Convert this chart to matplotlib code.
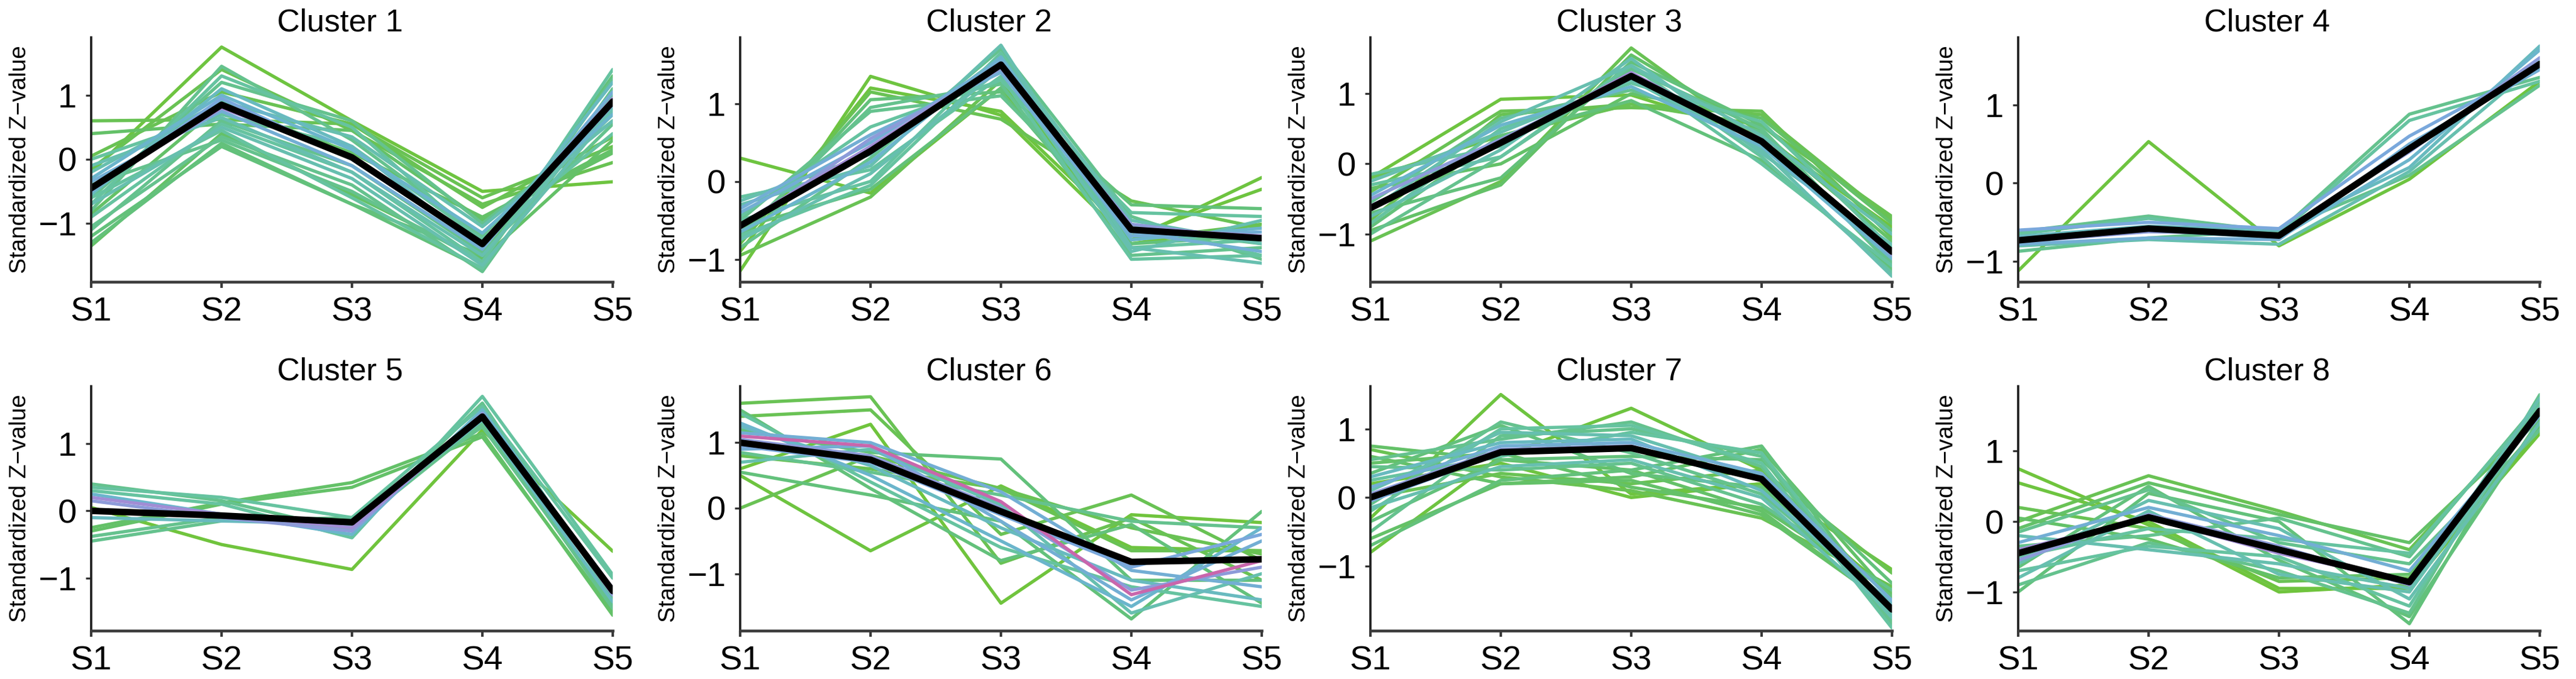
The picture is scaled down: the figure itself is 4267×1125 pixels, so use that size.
import matplotlib
matplotlib.use('Agg')
import matplotlib.pyplot as plt
from matplotlib.colors import LinearSegmentedColormap
import numpy as np

plt.rcParams['font.family'] = ['Liberation Sans', 'DejaVu Sans']

# ---------------- data ----------------
stages = ['S1', 'S2', 'S3', 'S4', 'S5']
cluster_titles = ['Cluster 1', 'Cluster 2', 'Cluster 3', 'Cluster 4',
                  'Cluster 5', 'Cluster 6', 'Cluster 7', 'Cluster 8']
y_label = 'Standardized Z\u2212value'
y_ticks = [-1, 0, 1]
y_tick_labels = ['\u22121', '0', '1']

centroid_1 = [-0.45, 0.85, 0.03, -1.32, 0.90]
members_1 = [
    [0.60, 0.62, 0.55, -0.75, 0.35], [0.40, 0.55, 0.45, -0.95, 0.10],
    [-0.20, 1.75, 0.60, -0.50, -0.35], [-1.35, 0.40, -0.55, -1.55, 0.30],
    [-1.30, 0.25, -0.70, -1.70, 0.95], [-1.20, 0.20, -0.70, -1.50, 1.30],
    [-1.05, 0.35, -0.40, -1.75, 1.10], [-0.90, 0.55, -0.20, -1.60, 1.40],
    [-0.80, 1.45, 0.30, -1.20, 0.95], [-0.70, 1.30, 0.50, -1.30, 0.70],
    [-0.60, 1.20, 0.60, -1.00, 0.60], [-0.55, 1.10, 0.20, -1.40, 1.20],
    [-0.50, 0.95, 0.00, -1.35, 0.85], [-0.45, 0.80, 0.05, -1.30, 0.95],
    [-0.35, 0.75, -0.10, -1.40, 1.05], [-0.30, 1.00, 0.15, -1.15, 0.70],
    [-0.20, 0.90, 0.35, -1.05, 0.60], [-0.10, 0.65, -0.20, -1.50, 0.80],
    [0.00, 0.70, 0.20, -1.25, 0.40], [-0.70, 0.50, -0.30, -1.65, 0.75],
    [-1.10, 0.60, -0.10, -1.45, 0.55], [-0.15, 1.40, 0.45, -0.70, -0.05],
    [-0.40, 0.30, -0.50, -1.60, 1.25], [-0.85, 0.85, 0.10, -0.90, 0.15],
    [0.05, 1.05, 0.55, -0.60, 0.20], [-0.60, 0.45, -0.60, -1.70, 1.00],
]
membership_1 = [0.35, 0.40, 0.30, 0.40, 0.45, 0.45, 0.50, 0.55, 0.50, 0.55,
                0.50, 0.65, 0.80, 0.90, 0.75, 0.70, 0.60, 0.60, 0.55, 0.60,
                0.50, 0.35, 0.50, 0.40, 0.35, 0.55]

centroid_2 = [-0.57, 0.39, 1.50, -0.62, -0.73]
members_2 = [
    [0.30, -0.15, 1.20, -0.75, 0.05], [-1.15, 1.35, 0.85, -0.80, -0.55],
    [-0.90, 1.20, 0.90, -0.70, -0.10], [-0.80, 1.15, 0.80, -0.25, -0.60],
    [-0.75, 1.05, 1.15, -0.80, -0.70], [-0.70, 0.95, 1.25, -0.95, -0.85],
    [-0.95, -0.20, 1.30, -0.75, -0.55], [-0.60, -0.10, 1.20, -0.30, -0.35],
    [-0.50, 0.00, 1.65, -0.55, -0.95], [-0.30, 0.20, 1.75, -0.85, -1.05],
    [-0.25, 0.35, 1.60, -0.50, -0.80], [-0.40, 0.50, 1.55, -0.65, -0.90],
    [-0.55, 0.45, 1.50, -0.60, -0.70], [-0.60, 0.55, 1.45, -0.55, -0.75],
    [-0.35, 0.60, 1.40, -0.70, -0.65], [-0.65, 0.25, 1.60, -0.75, -0.60],
    [-0.20, 0.15, 1.35, -1.00, -0.95], [-0.45, 0.70, 1.30, -0.40, -0.45],
    [-0.75, 0.10, 1.45, -0.90, -0.50], [-0.85, 0.30, 1.70, -0.45, -1.00],
    [-0.50, 0.90, 1.10, -0.60, -0.80], [-0.70, -0.05, 1.55, -0.85, -0.75],
]
membership_2 = [0.30, 0.30, 0.30, 0.35, 0.45, 0.50, 0.35, 0.45, 0.55, 0.60,
                0.60, 0.75, 0.90, 0.85, 0.75, 0.70, 0.55, 0.55, 0.60, 0.50,
                0.50, 0.55]

centroid_3 = [-0.63, 0.30, 1.25, 0.32, -1.25]
members_3 = [
    [-0.20, 0.92, 0.98, 0.40, -0.90], [-0.40, 0.75, 0.80, 0.75, -1.05],
    [-0.80, 0.70, 0.85, 0.70, -0.80], [-1.10, -0.25, 1.65, 0.30, -1.20],
    [-0.95, -0.30, 1.55, 0.45, -1.10], [-0.70, -0.20, 1.45, 0.55, -0.95],
    [-0.30, 0.10, 1.40, 0.10, -1.55], [-0.15, 0.25, 1.30, 0.00, -1.45],
    [-0.25, 0.45, 1.20, 0.20, -1.60], [-0.50, 0.35, 1.25, 0.35, -1.30],
    [-0.60, 0.30, 1.30, 0.30, -1.25], [-0.45, 0.55, 1.10, 0.25, -1.35],
    [-0.85, 0.50, 1.15, 0.60, -1.20], [-1.00, 0.10, 1.35, 0.50, -1.40],
    [-0.55, 0.65, 1.05, 0.45, -1.45], [-0.75, 0.20, 1.50, 0.15, -1.15],
    [-0.35, 0.00, 1.00, 0.65, -0.85], [-0.90, 0.40, 0.90, 0.05, -1.50],
    [-0.65, 0.60, 1.40, 0.40, -1.00], [-0.20, 0.40, 0.85, 0.55, -0.75],
]
membership_3 = [0.30, 0.35, 0.35, 0.35, 0.40, 0.45, 0.55, 0.55, 0.60, 0.85,
                0.90, 0.70, 0.55, 0.50, 0.50, 0.60, 0.40, 0.45, 0.60, 0.35]

centroid_4 = [-0.73, -0.58, -0.67, 0.44, 1.52]
members_4 = [
    [-1.12, 0.53, -0.80, 0.05, 1.30], [-0.87, -0.70, -0.60, 0.10, 1.25],
    [-0.62, -0.42, -0.62, 0.88, 1.35], [-0.65, -0.45, -0.65, 0.80, 1.30],
    [-0.70, -0.60, -0.70, 0.30, 1.70], [-0.75, -0.62, -0.65, 0.40, 1.60],
    [-0.78, -0.70, -0.72, 0.50, 1.45], [-0.68, -0.55, -0.60, 0.20, 1.75],
    [-0.80, -0.72, -0.78, 0.15, 1.55], [-0.60, -0.50, -0.58, 0.60, 1.50],
]
membership_4 = [0.30, 0.50, 0.50, 0.55, 0.70, 0.85, 0.75, 0.65, 0.60, 0.80]

centroid_5 = [0.00, -0.07, -0.17, 1.40, -1.19]
members_5 = [
    [0.05, -0.50, -0.87, 1.20, -0.60], [-0.30, 0.10, 0.35, 1.10, -1.50],
    [-0.25, 0.12, 0.42, 1.15, -1.55], [-0.45, -0.15, -0.10, 1.25, -1.40],
    [-0.38, -0.10, -0.25, 1.30, -1.45], [0.40, 0.15, -0.30, 1.60, -1.30],
    [0.30, 0.10, -0.40, 1.70, -0.95], [0.25, -0.05, -0.35, 1.50, -1.20],
    [0.15, -0.10, -0.30, 1.45, -1.25], [0.20, -0.05, -0.25, 1.40, -1.15],
    [-0.10, -0.15, -0.20, 1.35, -1.35], [0.35, 0.20, -0.10, 1.55, -1.00],
]
membership_5 = [0.25, 0.40, 0.40, 0.50, 0.50, 0.50, 0.55, 0.70, 0.85, 0.90,
                0.65, 0.55]

centroid_6 = [1.00, 0.74, -0.05, -0.82, -0.78]
members_6 = [
    [0.00, 0.80, 0.30, -0.30, -0.70], [0.50, -0.65, 0.34, -0.60, -0.65],
    [0.60, 1.28, -1.45, -0.10, -0.22], [1.60, 1.70, -0.84, -0.15, -1.10],
    [1.40, 1.50, -0.40, 0.20, -0.80], [1.20, 0.85, 0.75, -1.10, -1.10],
    [0.80, 0.60, 0.30, -0.65, -0.65], [0.55, 0.20, -0.20, -1.69, -0.05],
    [1.30, 0.50, -0.50, -1.50, -0.30], [1.10, 0.95, 0.10, -1.32, -0.80],
    [1.05, 0.80, 0.00, -1.25, -0.90], [0.90, 0.95, -0.20, -1.40, -0.50],
    [1.25, 0.65, -0.30, -1.10, -1.40], [1.45, 0.40, -0.60, -1.20, -1.50],
    [0.85, 0.55, 0.20, -0.20, -0.30], [1.15, 1.00, 0.25, -0.95, -1.20],
    [0.95, 0.70, -0.10, -0.90, -0.40], [1.50, 0.30, -0.80, -0.25, -1.45],
    [0.70, 0.90, 0.05, -1.60, -1.00],
]
membership_6 = [0.35, 0.30, 0.25, 0.35, 0.35, 0.45, 0.35, 0.45, 0.70, 0.97,
                0.85, 0.75, 0.65, 0.55, 0.50, 0.75, 0.80, 0.45, 0.60]

centroid_7 = [0.00, 0.66, 0.72, 0.27, -1.63]
members_7 = [
    [-0.30, 1.50, 0.05, 0.20, -1.40], [-0.80, 0.60, 1.30, 0.40, -1.50],
    [0.20, 0.50, 0.00, 0.20, -1.05], [0.70, 0.30, 0.10, -0.30, -1.30],
    [0.75, 0.55, 0.40, -0.20, -1.60], [0.60, 0.20, 0.30, 0.70, -1.45],
    [-0.70, 0.25, 0.40, 0.75, -1.70], [-0.50, 0.90, 1.00, 0.60, -1.85],
    [-0.20, 1.00, 1.05, 0.50, -1.90], [0.10, 0.95, 0.90, 0.30, -1.75],
    [0.30, 0.80, 0.85, 0.10, -1.55], [0.05, 0.70, 0.75, 0.25, -1.60],
    [-0.05, 0.65, 0.70, 0.30, -1.65], [0.15, 0.75, 0.80, 0.35, -1.50],
    [-0.15, 0.45, 0.55, 0.00, -1.70], [0.45, 0.40, 0.50, -0.10, -1.35],
    [0.55, 0.85, 1.10, 0.45, -1.80], [-0.35, 0.55, 0.60, 0.55, -1.25],
    [0.35, 1.05, 0.35, 0.15, -1.45], [-0.60, 0.20, 0.25, -0.25, -1.60],
    [0.00, 0.35, 0.20, 0.40, -1.10], [0.25, 0.60, 0.95, 0.65, -1.75],
    [-0.10, 1.10, 0.65, 0.05, -1.55], [0.50, 0.65, 0.15, -0.15, -1.40],
]
membership_7 = [0.30, 0.30, 0.30, 0.35, 0.40, 0.40, 0.45, 0.50, 0.55, 0.60,
                0.65, 0.85, 0.80, 0.75, 0.60, 0.50, 0.50, 0.45, 0.45, 0.40,
                0.35, 0.55, 0.50, 0.40]

centroid_8 = [-0.45, 0.06, -0.40, -0.86, 1.57]
members_8 = [
    [0.75, -0.05, -1.00, -0.90, 1.25], [0.55, 0.00, -0.95, -0.95, 1.30],
    [0.20, -0.10, -0.85, -0.80, 1.35], [0.00, 0.65, 0.15, -0.40, 1.60],
    [-0.10, 0.55, 0.10, -0.30, 1.45], [-1.00, 0.40, 0.00, -1.45, 1.70],
    [-0.90, -0.30, -0.70, -1.30, 1.80], [-0.70, -0.35, -0.50, -1.20, 1.65],
    [-0.55, 0.10, -0.35, -0.90, 1.60], [-0.40, 0.05, -0.45, -0.85, 1.55],
    [-0.30, 0.20, -0.20, -0.70, 1.50], [-0.20, -0.40, -0.60, -0.95, 1.75],
    [-0.60, 0.30, -0.10, -1.10, 1.40], [-0.15, 0.45, -0.30, -0.60, 1.30],
    [-0.80, 0.15, -0.75, -1.00, 1.55], [-0.35, -0.20, 0.05, -0.50, 1.70],
    [-0.65, 0.50, -0.55, -1.35, 1.45], [0.05, -0.25, -0.80, -0.75, 1.35],
    [-0.50, -0.10, -0.25, -0.45, 1.65],
]
membership_8 = [0.25, 0.30, 0.35, 0.35, 0.40, 0.45, 0.50, 0.55, 0.85, 0.90,
                0.75, 0.60, 0.60, 0.50, 0.60, 0.50, 0.45, 0.40, 0.55]

centroids = [centroid_1, centroid_2, centroid_3, centroid_4,
             centroid_5, centroid_6, centroid_7, centroid_8]
members = [members_1, members_2, members_3, members_4,
           members_5, members_6, members_7, members_8]
memberships = [membership_1, membership_2, membership_3, membership_4,
               membership_5, membership_6, membership_7, membership_8]

# ---------------- style / layout ----------------
y_limits = [(-1.91, 1.90), (-1.29, 1.85), (-1.68, 1.80), (-1.26, 1.86),
            (-1.78, 1.85), (-1.87, 1.86), (-1.94, 1.62), (-1.55, 1.92)]

cmap = LinearSegmentedColormap.from_list('membership', [
    (0.00, '#7BC62E'), (0.30, '#6EC440'), (0.42, '#62C070'),
    (0.55, '#66C3A0'), (0.68, '#68B8C8'), (0.80, '#7AA8DC'),
    (0.90, '#A08ED6'), (1.00, '#D9579C')])

W, H = 4267, 1125
fig = plt.figure(figsize=(W / 300, H / 300), dpi=300)
lefts_px = [151, 1226, 2270, 3343]
width_px = 864
rows_px = [(62, 467), (640, 1045)]

x = np.arange(1, 6)
for i in range(8):
    r, c = divmod(i, 4)
    top, bot = rows_px[r]
    ax = fig.add_axes([lefts_px[c] / W, 1 - bot / H, width_px / W, (bot - top) / H])
    mem = np.asarray(memberships[i])
    for j in np.argsort(mem, kind='stable'):
        ax.plot(x, members[i][j], color=cmap(mem[j]), lw=1.3,
                solid_joinstyle='round', solid_capstyle='round')
    ax.plot(x, centroids[i], color='black', lw=2.6,
            solid_joinstyle='round', solid_capstyle='round')
    ax.set_xlim(1, 5)
    ax.set_ylim(*y_limits[i])
    ax.set_xticks(x, stages)
    ax.set_yticks(y_ticks, y_tick_labels)
    for s in ('top', 'right'):
        ax.spines[s].set_visible(False)
    ax.spines['left'].set_linewidth(0.9)
    ax.spines['left'].set_color('#222222')
    ax.spines['bottom'].set_linewidth(1.1)
    ax.spines['bottom'].set_color('#3a3a3a')
    ax.tick_params(axis='x', length=2.4, width=1.0, color='#3a3a3a', pad=3.4,
                   labelsize=13.5, labelcolor='black')
    ax.tick_params(axis='y', length=2.2, width=0.8, color='#333333', pad=3.6,
                   labelsize=13.5, labelcolor='black')
    ax.set_title(cluster_titles[i], fontsize=12.5, pad=1.5, x=0.477)
    ax.set_ylabel(y_label, fontsize=9.3)
    ax.yaxis.set_label_coords(-0.116, 0.5)

fig.savefig('out.png', dpi=300, facecolor='white')
